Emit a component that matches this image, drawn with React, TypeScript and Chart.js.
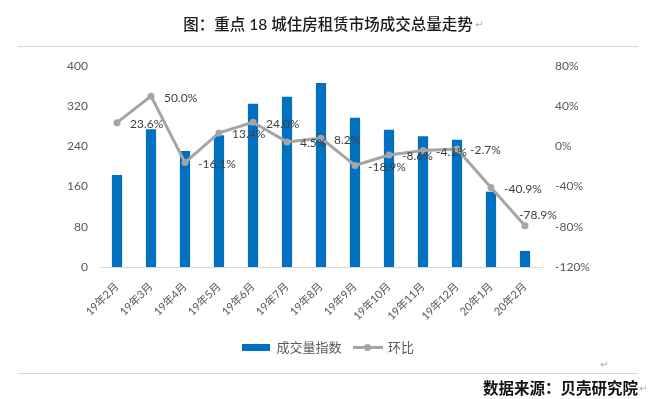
import React, { useEffect, useRef } from "react";
import { Chart, registerables } from "chart.js";

Chart.register(...registerables);

const categories = [
  "19年2月", "19年3月", "19年4月", "19年5月", "19年6月", "19年7月", "19年8月",
  "19年9月", "19年10月", "19年11月", "19年12月", "20年1月", "20年2月",
];
const volumeIndex = [183, 274, 231, 262, 325, 339, 366, 297, 273, 260, 253, 150, 32];
const momChange = [23.6, 50.0, -16.1, 13.4, 24.0, 4.5, 8.2, -18.9, -8.6, -4.1, -2.7, -40.9, -78.9];
const seriesNames = ["成交量指数", "环比"];
const leftTicks = [0, 80, 160, 240, 320, 400];
const rightTicks = [-120, -80, -40, 0, 40, 80];

const FONT = "Lato, 'Noto Sans CJK SC', sans-serif";
const BLUE = "#0070C0";
const GRAY = "#A5A5A5";

function makeBoxIcon(w: number, h: number, color: string) {
  const c = document.createElement("canvas");
  c.width = w;
  c.height = h;
  const g = c.getContext("2d")!;
  g.fillStyle = color;
  g.fillRect(0, 0, w, h);
  return c;
}

function makeLineIcon(w: number, h: number, color: string) {
  const c = document.createElement("canvas");
  c.width = w;
  c.height = h;
  const g = c.getContext("2d")!;
  g.strokeStyle = color;
  g.lineWidth = 3;
  g.beginPath();
  g.moveTo(0, h / 2);
  g.lineTo(w, h / 2);
  g.stroke();
  g.fillStyle = color;
  g.beginPath();
  g.arc(w / 2, h / 2, 3.5, 0, Math.PI * 2);
  g.fill();
  return c;
}

const lineLabelPlugin = {
  id: "lineLabels",
  afterDatasetsDraw(chart: any) {
    const meta = chart.getDatasetMeta(1);
    const ctx = chart.ctx;
    ctx.save();
    ctx.font = `12px ${FONT}`;
    ctx.fillStyle = "#404040";
    ctx.textAlign = "left";
    ctx.textBaseline = "middle";
    const last = meta.data.length - 1;
    meta.data.forEach((pt: any, i: number) => {
      const text = momChange[i].toFixed(1) + "%";
      if (i === last) {
        // last label sits above the point so it clears the right axis
        ctx.fillText(text, pt.x - 6, pt.y - 10.5);
      } else {
        ctx.fillText(text, pt.x + 13, pt.y + 1.5);
      }
    });
    ctx.restore();
  },
};

export default function App() {
  const canvasRef = useRef<HTMLCanvasElement | null>(null);

  useEffect(() => {
    if (!canvasRef.current) return;
    const barIcon = makeBoxIcon(28, 7, BLUE);
    const lineIcon = makeLineIcon(30, 9, GRAY);
    const chart = new Chart(canvasRef.current, {
      type: "bar",
      data: {
        labels: categories,
        datasets: [
          {
            type: "bar",
            label: seriesNames[0],
            data: volumeIndex,
            backgroundColor: BLUE,
            barPercentage: 0.3,
            categoryPercentage: 1,
            yAxisID: "y",
            order: 1,
          },
          {
            type: "line",
            label: seriesNames[1],
            data: momChange,
            borderColor: GRAY,
            backgroundColor: GRAY,
            borderWidth: 3,
            pointRadius: 3.5,
            pointBackgroundColor: GRAY,
            pointBorderWidth: 0,
            tension: 0,
            yAxisID: "y1",
            order: 0,
          } as any,
        ],
      },
      options: {
        responsive: false,
        animation: false,
        layout: { padding: { top: 66, left: 0, right: 0, bottom: 35 } },
        plugins: {
          tooltip: { enabled: false },
          legend: {
            display: true,
            position: "bottom",
            labels: {
              usePointStyle: true,
              pointStyleWidth: 28,
              padding: 12,
              color: "#595959",
              font: { family: FONT, size: 13 },
              generateLabels: () => [
                { text: seriesNames[0], pointStyle: barIcon as any, datasetIndex: 0, fontColor: "#595959", lineWidth: 0, hidden: false } as any,
                { text: seriesNames[1], pointStyle: lineIcon as any, datasetIndex: 1, fontColor: "#595959", lineWidth: 0, hidden: false } as any,
              ],
            },
          },
        },
        scales: {
          x: {
            grid: { display: false, drawTicks: false },
            border: { display: true, color: "#D9D9D9", width: 1 },
            ticks: {
              color: "#595959",
              font: { family: FONT, size: 11 },
              minRotation: 45,
              maxRotation: 45,
              padding: 13,
              autoSkip: false,
            },
            afterFit: (s: any) => {
              s.height = 62;
            },
          },
          y: {
            position: "left",
            min: leftTicks[0],
            max: leftTicks[leftTicks.length - 1],
            grid: { display: false, drawTicks: false },
            border: { display: false },
            afterBuildTicks: (s: any) => {
              s.ticks = leftTicks.map((v) => ({ value: v }));
            },
            ticks: {
              color: "#595959",
              font: { family: FONT, size: 12 },
              padding: 12,
            },
            afterFit: (s: any) => {
              s.width = 100;
            },
          },
          y1: {
            position: "right",
            min: rightTicks[0],
            max: rightTicks[rightTicks.length - 1],
            grid: { display: false, drawTicks: false },
            border: { display: false },
            afterBuildTicks: (s: any) => {
              s.ticks = rightTicks.map((v) => ({ value: v }));
            },
            ticks: {
              color: "#595959",
              font: { family: FONT, size: 12 },
              padding: 13,
              callback: (v: any) => v + "%",
            },
            afterFit: (s: any) => {
              s.width = 114;
            },
          },
        },
      } as any,
      plugins: [lineLabelPlugin],
    });
    return () => chart.destroy();
  }, []);

  const arrow: React.CSSProperties = {
    position: "absolute",
    color: "#8FB4E3",
    fontSize: 10,
    fontFamily: "'DejaVu Sans', sans-serif",
    lineHeight: "12px",
  };

  return (
    <div
      style={{
        position: "fixed",
        left: 0,
        top: 0,
        width: 656,
        height: 399,
        background: "#FFFFFF",
        overflow: "hidden",
      }}
    >
      <canvas ref={canvasRef} width={656} height={399} style={{ position: "absolute", left: 0, top: 0 }} />
      <div
        style={{
          position: "absolute",
          left: 0,
          top: 12,
          width: 656,
          textAlign: "center",
          fontFamily: FONT,
          fontSize: 15.5,
          fontWeight: 500,
          lineHeight: "24px",
          color: "#1A1A1A",
        }}
      >
        图：重点 18 城住房租赁市场成交总量走势
      </div>
      <div style={{ ...arrow, left: 475, top: 19 }}>↵</div>
      <div style={{ position: "absolute", left: 18, top: 46, width: 620, height: 1, background: "#D4D4D4" }} />
      <div style={{ ...arrow, left: 600, top: 359 }}>↵</div>
      <div style={{ position: "absolute", left: 18, top: 373, width: 620, height: 1, background: "#D4D4D4" }} />
      <div
        style={{
          position: "absolute",
          left: 470,
          top: 378,
          width: 168,
          textAlign: "right",
          fontFamily: FONT,
          fontSize: 15.5,
          fontWeight: 700,
          lineHeight: "20px",
          color: "#111111",
        }}
      >
        数据来源：贝壳研究院
      </div>
      <div style={{ ...arrow, left: 639, top: 383 }}>↵</div>
    </div>
  );
}
